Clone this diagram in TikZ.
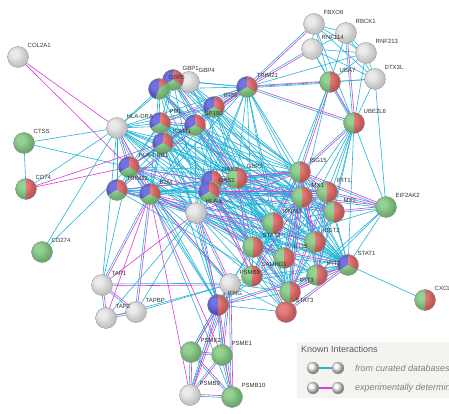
\documentclass[tikz,border=0pt]{standalone}
\usepackage{fontspec}
\setmainfont{Liberation Sans}
\usetikzlibrary{calc}
\definecolor{cy}{HTML}{22B4DA}
\definecolor{mg}{HTML}{D83ED8}
\definecolor{pr}{HTML}{DE4848}
\definecolor{pg}{HTML}{66BE66}
\definecolor{pb}{HTML}{3636D4}
\definecolor{pw}{HTML}{E2E2E2}
\definecolor{lbl}{HTML}{333333}
\definecolor{legbg}{HTML}{F5F3F0}
\tikzset{
 cyl/.style={draw=cy, line width=0.6pt},
 mgl/.style={draw=mg, line width=0.6pt},
 hub/.style={circle, minimum size=20pt, inner sep=0pt},
 lab/.style={anchor=west, font=\fontsize{6}{6}\selectfont, text=lbl, inner sep=0pt},
}
\newcommand\Cedges[1]{\foreach \a/\b in {#1}{\draw[cyl] (\a.center) -- (\b.center);}}
\newcommand\Medges[1]{\foreach \a/\b in {#1}{\draw[mgl] (\a.center) -- (\b.center);}}
\newcommand\Bedges[1]{\foreach \a/\b in {#1}{%
 \draw[cyl] ($(\a.center)!0.9pt!-90:(\b.center)$) -- ($(\b.center)!0.9pt!90:(\a.center)$);
 \draw[mgl] ($(\a.center)!0.9pt!90:(\b.center)$) -- ($(\b.center)!0.9pt!-90:(\a.center)$);}}
\newcommand\ballpie[2]{%
 \foreach \sa/\ea/\cc in {#2}{\fill[\cc] (#1.center) -- ++(\sa:10.5pt) arc[start angle=\sa, end angle=\ea, radius=10.5pt] -- cycle;}
 \shade[ball color=white, opacity=0.3] (#1.center) circle[radius=10.5pt];
 \draw[black!45, line width=0.3pt] (#1.center) circle[radius=10.5pt];}
\begin{document}
\begin{tikzpicture}[x=1pt,y=-1pt]
\useasboundingbox (0,0) rectangle (449,414);
\fill[white] (0,0) rectangle (449,414);
% node anchors
\foreach \n/\px/\py in {COL/18/57, CTSS/24/143, CD74/26/189, CD274/42/252,
 DRA/117/128, GBP5/159/89, GBP1/173/80, GBP4/189/82, IFI30/214/107, PML/160/123,
 SP100/195/125, ICAM1/163/143, DRB1/129/167, TRIM22/117/190, B2M/150/194,
 OAS3/212/181, OAS2/209/192, HLAE/196/213, GBP2/237/178, TRIM21/247/87,
 FBXO6/314/24, RBCK1/346/33, RNF114/312/49, RNF213/366/53, DTX3L/375/79,
 UBA7/330/82, UBE2L6/354/123, ISG15/300/172, MX1/302/197, IFIT1/327/192,
 MX2/334/212, EIF2AK2/386/207, IFITM3/273/223, BST2/315/242, STAT2/253/247,
 IFI35/284/258, STAT1/348/265, IFIT2/317/275, SAMHD1/252/276, PSMB8/230/284,
 IFIT3/290/292, STAT3/286/312, IFNG/218/305, CXCL10/425/300, TAP1/102/285,
 TAP2/106/318, TAPBP/136/312, PSME2/191/352, PSME1/222/355, PSMB9/190/395,
 PSMB10/232/397}
 {\node[hub] (\n) at (\px,\py) {};}
% ---------------- edges ----------------
\Cedges{CTSS/DRA, CTSS/DRB1, CTSS/CD74, CD274/DRA, CD274/DRB1, CD74/DRA,
 FBXO6/RBCK1, FBXO6/RNF213, FBXO6/UBA7, FBXO6/DTX3L, FBXO6/UBE2L6, FBXO6/RNF114,
 RNF114/RBCK1, RNF114/RNF213, RNF114/DTX3L, RNF114/UBA7, RNF114/UBE2L6,
 RBCK1/UBA7, RBCK1/RNF213, RBCK1/DTX3L, RNF213/UBA7, RNF213/DTX3L, RNF213/UBE2L6,
 DTX3L/UBA7, DTX3L/UBE2L6, DTX3L/EIF2AK2, TRIM21/RNF213, TRIM21/DTX3L,
 UBE2L6/MX1, UBE2L6/IFIT1, UBE2L6/MX2, UBE2L6/EIF2AK2, UBE2L6/STAT1, UBE2L6/IFI35,
 UBE2L6/BST2, UBE2L6/IFIT2, UBA7/MX1, UBA7/IFITM3}
\Cedges{TRIM21/GBP1, TRIM21/GBP4, TRIM21/GBP5, TRIM21/SP100, TRIM21/ICAM1, TRIM21/DRA,
 TRIM21/ISG15, TRIM21/MX1, TRIM21/STAT1, TRIM21/B2M, TRIM21/HLAE, TRIM21/OAS2,
 TRIM21/GBP2, TRIM21/IFITM3, TRIM21/STAT2, TRIM21/IFI35}
\Cedges{DRA/PML, DRA/ICAM1, DRA/HLAE, DRA/GBP5, DRA/GBP1, DRA/IFI30, DRA/SP100, DRA/TRIM22,
 DRB1/ICAM1, DRB1/HLAE, DRB1/PML, DRB1/SP100, DRB1/IFI30, PML/ICAM1, PML/IFI30, PML/GBP5,
 PML/GBP1, PML/TRIM22, SP100/IFI30, SP100/ICAM1, SP100/GBP1, SP100/GBP5, ICAM1/B2M,
 ICAM1/HLAE, ICAM1/TRIM22, IFI30/B2M, IFI30/HLAE, IFI30/GBP4, IFI30/GBP1, TRIM22/B2M,
 GBP5/GBP4, GBP5/B2M, GBP1/B2M, B2M/OAS2, B2M/OAS3, TRIM22/OAS3}
\Cedges{DRA/ISG15, DRA/MX1, DRA/STAT1, DRA/IFITM3, DRA/STAT2, DRA/IFI35, DRA/GBP2, DRA/OAS2,
 DRA/IFNG, DRA/TAP1,
 PML/ISG15, PML/MX1, PML/IFIT1, PML/STAT1, PML/IFI35, PML/IFITM3, PML/STAT2, PML/GBP2,
 PML/OAS3, PML/OAS2, PML/HLAE, PML/BST2, PML/MX2,
 SP100/ISG15, SP100/MX1, SP100/STAT1, SP100/IFI35, SP100/STAT2, SP100/OAS3, SP100/MX2,
 SP100/IFIT3, SP100/HLAE, SP100/GBP2,
 ICAM1/STAT1, ICAM1/IFNG, ICAM1/STAT3, ICAM1/STAT2, ICAM1/IFITM3, ICAM1/GBP2,
 IFI30/ISG15, IFI30/MX1, IFI30/IFITM3, IFI30/STAT1, IFI30/GBP2, IFI30/OAS2, IFI30/IFIT3,
 DRB1/STAT1, DRB1/IFNG, DRB1/ISG15, DRB1/STAT2, DRB1/IFI35, DRB1/PSMB8, DRB1/IFITM3,
 DRB1/MX1, DRB1/GBP2, DRB1/TAP1}
\Cedges{TRIM22/ISG15, TRIM22/MX1, TRIM22/MX2, TRIM22/IFIT1, TRIM22/IFIT3, TRIM22/IFITM3,
 TRIM22/STAT1, TRIM22/BST2, TRIM22/OAS2,
 B2M/PSMB10, B2M/STAT1, B2M/ISG15, B2M/STAT2, B2M/GBP2, B2M/IFNG, B2M/SAMHD1,
 GBP5/STAT1, GBP5/IFNG, GBP5/ISG15, GBP5/IFITM3, GBP5/OAS2,
 GBP1/STAT1, GBP1/IFNG, GBP1/IFI35, GBP1/ISG15, GBP1/MX1,
 GBP4/GBP2, GBP4/ISG15, GBP4/STAT1, GBP4/IFI35,
 HLAE/STAT1, HLAE/STAT2, HLAE/IFI35, HLAE/MX1, HLAE/TAPBP, HLAE/TAP2, HLAE/IFIT3,
 HLAE/SAMHD1, HLAE/GBP2, HLAE/OAS2,
 OAS2/IFI35, OAS2/STAT1, OAS2/STAT2, OAS2/BST2, OAS2/IFITM3, OAS2/GBP2, OAS2/IFIT2,
 OAS3/MX2, OAS3/IFIT1, OAS3/IFIT3, OAS3/IFITM3, OAS3/GBP2, OAS3/STAT2,
 GBP2/IFIT1, GBP2/MX2, GBP2/IFITM3, GBP2/STAT1, GBP2/STAT2, GBP2/IFI35, GBP2/IFIT3,
 GBP2/BST2, GBP2/IFIT2}
\Cedges{ISG15/STAT2, ISG15/STAT1, ISG15/SAMHD1, ISG15/STAT3, MX1/STAT2, MX1/STAT1, MX1/IFIT2,
 IFIT1/STAT1, IFIT1/IFI35, IFIT1/BST2, IFIT1/IFITM3, MX2/BST2, MX2/IFIT3, MX2/IFIT2,
 MX2/STAT1, MX2/IFITM3, MX2/STAT2, EIF2AK2/STAT1, EIF2AK2/IFIT3, EIF2AK2/IFIT2,
 EIF2AK2/STAT2, IFITM3/BST2, IFITM3/STAT2, IFITM3/IFI35, IFITM3/IFIT3, IFITM3/STAT1,
 IFITM3/SAMHD1, BST2/IFI35, BST2/IFIT3, BST2/STAT1, BST2/STAT2, BST2/IFIT2, STAT2/IFI35,
 STAT2/IFIT3, STAT2/SAMHD1, STAT2/IFNG, STAT2/IFIT2, STAT2/PSMB8, IFI35/STAT1, IFI35/IFIT3,
 IFI35/IFIT2, IFI35/SAMHD1, IFI35/STAT3, STAT1/IFIT2, STAT1/CXCL10, STAT1/SAMHD1,
 STAT1/PSMB8, IFNG/STAT3, IFNG/IFIT3, IFNG/PSMB8, IFNG/SAMHD1, IFNG/IFI35, SAMHD1/IFIT3,
 SAMHD1/STAT3, SAMHD1/PSMB8, PSMB8/STAT3, PSMB8/IFIT3, PSMB8/TAP2, PSMB8/TAPBP, IFIT3/STAT3}
\Medges{COL/DRA, COL/DRB1, CD74/DRB1, CD74/ICAM1, TRIM21/DRB1,
 B2M/PSMB9, B2M/PSME1, B2M/IFITM3, B2M/IFI35, B2M/TAP2, HLAE/ISG15, HLAE/IFITM3,
 HLAE/TAP1, HLAE/BST2, OAS2/SAMHD1, OAS3/SAMHD1, GBP2/SAMHD1, TRIM22/HLAE, DRB1/OAS2,
 DRB1/OAS3, TRIM22/GBP2, MX1/SAMHD1}
\Bedges{FBXO6/TRIM21, RNF114/TRIM21, RBCK1/UBE2L6, UBA7/UBE2L6, TRIM21/UBA7, TRIM21/UBE2L6,
 UBA7/ISG15, UBE2L6/ISG15, TRIM21/IFI30, TRIM21/PML, TRIM21/TRIM22,
 DRA/DRB1, DRA/B2M, DRB1/B2M, PML/SP100, B2M/HLAE, GBP5/GBP1, GBP1/GBP4, OAS2/OAS3,
 B2M/PSMB8, B2M/TAP1, B2M/TAPBP, HLAE/PSMB8, HLAE/IFNG, OAS2/ISG15, OAS2/MX1, OAS2/MX2,
 OAS2/IFIT1, OAS2/IFIT3, OAS3/ISG15, OAS3/MX1, GBP5/GBP2, GBP1/GBP2, GBP2/ISG15, GBP2/MX1,
 ISG15/MX1, ISG15/IFIT1, ISG15/MX2, ISG15/IFITM3, ISG15/BST2, ISG15/IFI35, ISG15/IFIT2,
 ISG15/IFIT3, ISG15/EIF2AK2, MX1/IFIT1, MX1/MX2, MX1/IFITM3, MX1/BST2, MX1/IFI35, MX1/IFIT3,
 MX1/EIF2AK2, IFIT1/MX2, IFIT1/IFIT3, IFIT1/IFIT2, IFIT1/EIF2AK2, MX2/EIF2AK2, STAT2/STAT1,
 STAT2/STAT3, STAT1/STAT3, STAT1/IFIT3, STAT1/IFNG, IFIT2/IFIT3,
 PSMB8/PSME1, PSMB8/PSME2, PSMB8/PSMB9, PSMB8/PSMB10, PSMB8/TAP1, IFNG/PSME2, IFNG/PSME1,
 IFNG/PSMB9, IFNG/PSMB10, PSME2/PSME1, PSME2/PSMB9, PSME2/PSMB10, PSME1/PSMB9,
 PSME1/PSMB10, PSMB9/PSMB10, TAP1/TAP2, TAP1/TAPBP, TAP2/TAPBP}
% ---------------- balls ----------------
\foreach \n in {COL, DRA, GBP4, HLAE, PSMB8, TAP1, TAP2, TAPBP, PSMB9, FBXO6, RBCK1,
 RNF114, RNF213, DTX3L}{\ballpie{\n}{0/360/pw}}
\foreach \n in {CTSS, CD274, PSME2, PSME1, PSMB10, EIF2AK2}{\ballpie{\n}{0/360/pg}}
\ballpie{STAT3}{0/360/pr}
\foreach \n in {CD74, UBA7, UBE2L6, GBP2, ISG15, MX1, IFIT1, MX2, IFITM3, BST2, STAT2,
 IFI35, SAMHD1, IFIT3, IFIT2, CXCL10}{\ballpie{\n}{90/270/pg, -90/90/pr}}
\ballpie{IFNG}{90/270/pb, -90/90/pr}
\foreach \n in {TRIM21, GBP1, IFI30, PML, SP100, ICAM1, DRB1, TRIM22, B2M, OAS3, OAS2, STAT1}
 {\ballpie{\n}{90/210/pb, -30/90/pr, 210/330/pg}}
\ballpie{GBP5}{90/250/pb, 250/400/pg, 40/90/pr}
% ---------------- labels ----------------
\foreach \n/\t in {COL/COL2A1, CTSS/CTSS, CD74/CD74, CD274/CD274, DRA/HLA-DRA, GBP5/GBP5,
 GBP1/GBP1, GBP4/GBP4, IFI30/IFI30, PML/PML, SP100/SP100, ICAM1/ICAM1, DRB1/HLA-DRB1,
 TRIM22/TRIM22, B2M/B2M, OAS3/OAS3, OAS2/OAS2, HLAE/HLA-E, GBP2/GBP2, TRIM21/TRIM21,
 FBXO6/FBXO6, RBCK1/RBCK1, RNF114/RNF114, RNF213/RNF213, DTX3L/DTX3L, UBA7/UBA7,
 UBE2L6/UBE2L6, ISG15/ISG15, MX1/MX1, IFIT1/IFIT1, MX2/MX2, EIF2AK2/EIF2AK2,
 IFITM3/IFITM3, BST2/BST2, STAT2/STAT2, IFI35/IFI35, STAT1/STAT1, IFIT2/IFIT2,
 SAMHD1/SAMHD1, PSMB8/PSMB8, IFIT3/IFIT3, STAT3/STAT3, IFNG/IFNG, CXCL10/CXCL10,
 TAP1/TAP1, TAP2/TAP2, TAPBP/TAPBP, PSME2/PSME2, PSME1/PSME1, PSMB9/PSMB9, PSMB10/PSMB10}
 {\node[lab] (L\n) at ($(\n.center)+(9.5,-11.5)$) {\t};}
% ---------------- legend ----------------
\fill[legbg] (297,342) rectangle (449,398);
\node[anchor=west, inner sep=0pt, font=\fontsize{9}{9}\selectfont, text=black!65] (lgt) at (301,349) {Known Interactions};
\node[circle, minimum size=12pt, inner sep=0pt] (la1) at (313,368) {};
\node[circle, minimum size=12pt, inner sep=0pt] (la2) at (338,368) {};
\node[circle, minimum size=12pt, inner sep=0pt] (lb1) at (313,388) {};
\node[circle, minimum size=12pt, inner sep=0pt] (lb2) at (338,388) {};
\draw[cy, line width=1.4pt] (la1.center) -- (la2.center);
\draw[mg, line width=1.4pt] (lb1.center) -- (lb2.center);
\foreach \n in {la1, la2, lb1, lb2}{
 \shade[ball color=white!92!gray] (\n.center) circle[radius=6pt];
 \draw[gray!60, line width=0.3pt] (\n.center) circle[radius=6pt];}
\node[anchor=west, inner sep=0pt, font=\fontsize{9}{9}\selectfont\itshape, text=black!50] (lgc) at (355,368) {from curated databases};
\node[anchor=west, inner sep=0pt, font=\fontsize{9}{9}\selectfont\itshape, text=black!50] (lge) at (355,388) {experimentally determined};
\end{tikzpicture}
\end{document}
